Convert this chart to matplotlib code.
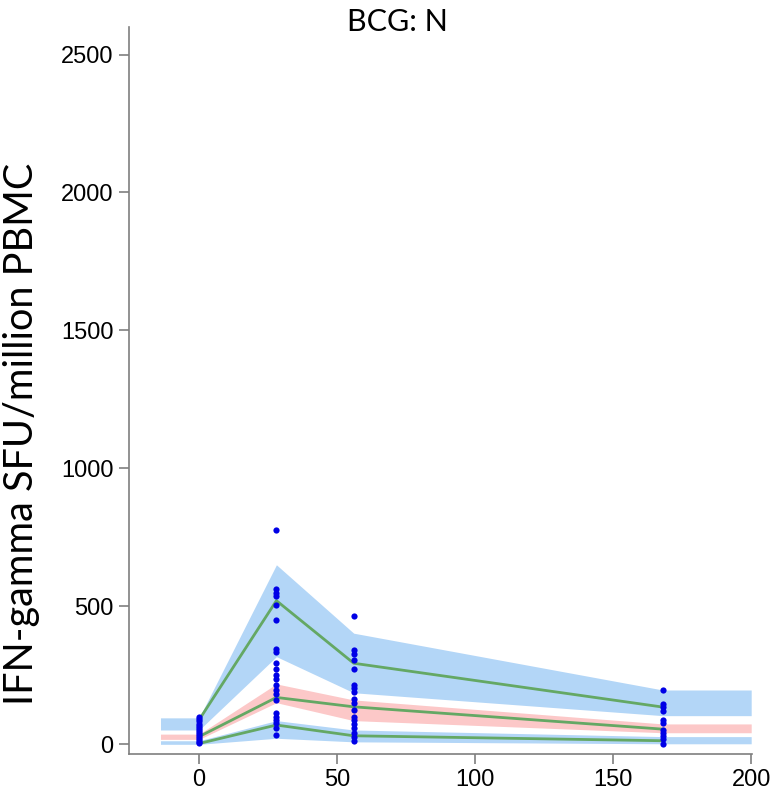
import matplotlib
matplotlib.use("Agg")
import matplotlib.pyplot as plt
import numpy as np

# Nominal visit days
times = [0, 28, 56, 168]

# Observed IFN-gamma responses per visit
obs_day0 = [98, 90, 82, 74, 66, 58, 50, 43, 36, 29, 22, 15, 8, 3]
obs_day28 = [775, 561, 549, 537, 504, 451, 344, 335, 293, 271, 250, 235,
             214, 196, 181, 160, 111, 99, 87, 75, 57, 33]
obs_day56 = [464, 341, 325, 305, 271, 214, 202, 190, 162, 148, 123, 99,
             87, 73, 57, 39, 25, 12]
obs_day168 = [196, 145, 135, 121, 87, 75, 51, 39, 29, 17, 2]

# Observed percentiles (5th, median, 95th)
obs_p95 = [88, 520, 293, 134]
obs_p50 = [27, 169, 135, 54]
obs_p05 = [2, 69, 30, 12]

# Simulated prediction intervals for each percentile
hi_upper = [95, 650, 402, 196]
hi_lower = [51, 317, 186, 103]
mid_upper = [36, 218, 160, 73]
mid_lower = [17, 150, 85, 41]
lo_upper = [12, 85, 51, 27]
lo_lower = [-1, 21, 8, 1]

# Bands are held flat before the first and after the last visit
band_x = [-14] + times + [200]


def ext(v):
    return [v[0]] + list(v) + [v[-1]]


fig = plt.figure(figsize=(7.74, 7.94), dpi=100)
ax = fig.add_axes([0.1667, 0.0504, 0.8049, 0.9156])

blue = "#b3d6f7"
pink = "#fcc8c8"
green = "#64a864"

ax.fill_between(band_x, ext(hi_lower), ext(hi_upper), color=blue, lw=0)
ax.fill_between(band_x, ext(mid_lower), ext(mid_upper), color=pink, lw=0)
ax.fill_between(band_x, ext(lo_lower), ext(lo_upper), color=blue, lw=0)

for series in (obs_p95, obs_p50, obs_p05):
    ax.plot(times, series, color=green, lw=2)

for t, vals in zip(times, (obs_day0, obs_day28, obs_day56, obs_day168)):
    ax.scatter([t] * len(vals), vals, s=20, color="#0000e6", zorder=3,
               linewidths=0)

ax.set_xlim(-25.4, 200.3)
ax.set_ylim(-36, 2600)
ax.set_xticks([0, 50, 100, 150, 200])
ax.set_yticks([0, 500, 1000, 1500, 2000, 2500])

for side in ("top", "right"):
    ax.spines[side].set_visible(False)
for side in ("left", "bottom"):
    ax.spines[side].set_color("#7f7f7f")
    ax.spines[side].set_linewidth(1.2)

ax.tick_params(axis="both", colors="#7f7f7f", length=7, width=1.2,
               labelcolor="black", labelsize=17, pad=4)
for lab in ax.get_xticklabels() + ax.get_yticklabels():
    lab.set_fontfamily("Liberation Sans")

ax.set_ylabel("IFN-gamma SFU/million PBMC", fontsize=28.5, family="Lato")
ax.yaxis.set_label_coords(-0.143, 0.44)
fig.text(0.513, 0.972, "BCG: N", fontsize=22, family="Lato",
         ha="center", va="center")

fig.savefig("out.png", dpi=100)
